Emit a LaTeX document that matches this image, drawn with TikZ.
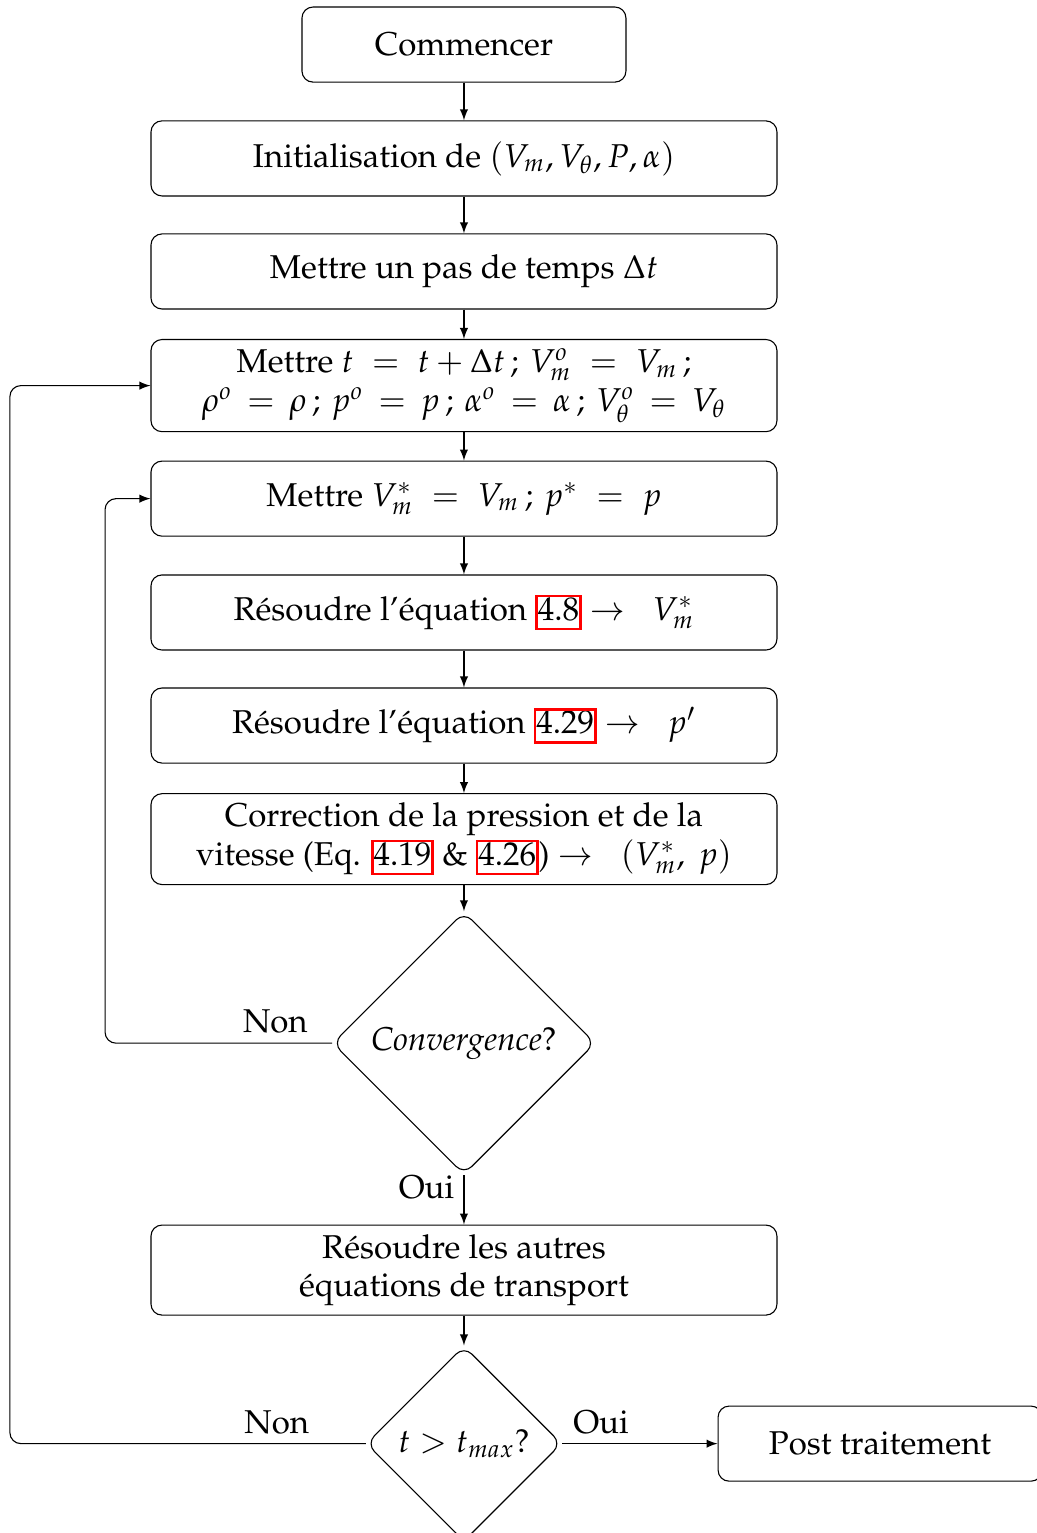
\documentclass[tikz,border=0pt]{standalone}
\usepackage[T1]{fontenc}
\usepackage{mathpazo}
\usepackage{amsmath}
\usetikzlibrary{shapes.geometric,arrows}

\newcommand{\eqlien}[1]{{\setlength{\fboxsep}{0pt}\setlength{\fboxrule}{0.9pt}%
  \textcolor{red}{\fbox{\rule[-2.8pt]{0pt}{10pt}\textcolor{black}{#1}}}}}

\begin{document}
\begin{tikzpicture}[>=latex, font=\large]

      \tikzstyle{etape}=[draw, rectangle, rounded corners=4pt, align=center,
                         minimum width=227.6pt, minimum height=27.3pt]
      \tikzstyle{bout}=[etape, minimum width=117.8pt]
      \tikzstyle{test}=[draw, diamond, aspect=1, rounded corners=4pt, inner sep=0pt]

      \useasboundingbox (-168.7pt,0pt) rectangle (208pt,-557.4pt);

      \node (debut) [bout] at (0,-16.2pt) {Commencer};
      \node (init) [etape] at (0,-57.6pt) {Initialisation de $(V_m, V_\theta, P, \alpha)$};
      \node (pas) [etape] at (0,-98.7pt) {Mettre un pas de temps $\Delta t$};
      \node (mettret) [etape] at (0,-140.2pt)
          {Mettre $t \;=\; t+\Delta t\,;\, V_m^o \;=\; V_m\,;$\\
           $\rho^o \,=\, \rho\,;\, p^o \,=\, p\,;\, \alpha^o \,=\, \alpha\,;\, V_\theta^o \,=\, V_\theta$};
      \node (mettrev) [etape] at (0,-181.3pt) {Mettre $V_m^* \;=\; V_m\,;\, p^* \;=\; p$};
      \node (res1) [etape] at (0,-222.7pt) {R\'esoudre l'\'equation \eqlien{4.8} $\rightarrow\;\; V_m^*$};
      \node (res2) [etape] at (0,-263.8pt) {R\'esoudre l'\'equation \eqlien{4.29} $\rightarrow\;\; p'$};
      \node (corr) [etape] at (0,-305.1pt)
          {Correction de la pression et de la\\
           vitesse (Eq. \eqlien{4.19} \& \eqlien{4.26}) $\rightarrow\;\; (V_m^*,\ p)$};
      \node (conv) [test, minimum size=95.5pt] at (0,-379.3pt) {\textit{Convergence}?};
      \node (autres) [etape] at (0,-461.8pt) {R\'esoudre les autres\\ \'equations de transport};
      \node (tmax) [test, minimum size=71pt] at (0,-524.9pt) {$t > t_{max}$?};
      \node (post) [bout] at (151.3pt,-524.9pt) {Post traitement};

      \coordinate (gauche1) at (-130.5pt,0);
      \coordinate (gauche2) at (-165.1pt,0);

      \foreach \a/\b in {debut/init, init/pas, pas/mettret, mettret/mettrev,
                         mettrev/res1, res1/res2, res2/corr, corr/conv}
          \draw[->] (\a) -- (\b);

      \draw[->] (conv) -- node[near start, left] {Oui} (autres);
      \draw[->] (autres) -- (tmax);
      \draw[->] (tmax) -- node[near start, above] {Oui} (post);

      % retour vers V*
      \draw[->, rounded corners=4pt] (conv.west) -- node[near start, above] {Non}
          (conv.west -| gauche1) |- (mettrev.west);
      % retour vers le pas de temps suivant
      \draw[->, rounded corners=4pt] (tmax.west) -- node[near start, above] {Non}
          (tmax.west -| gauche2) |- (mettret.west);

\end{tikzpicture}
\end{document}
